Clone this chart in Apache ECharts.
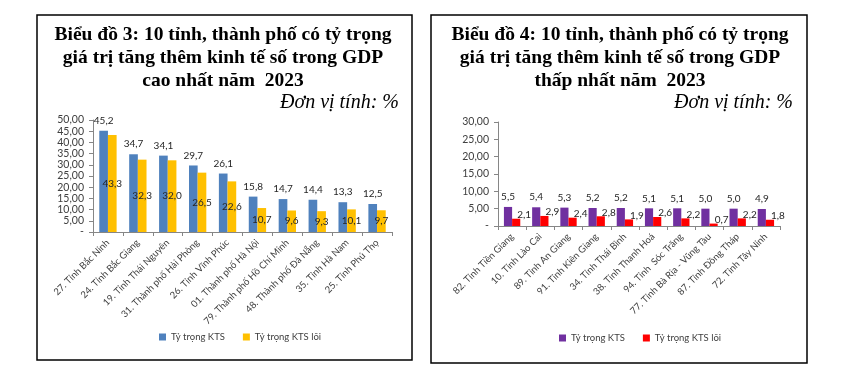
<!DOCTYPE html>
<html><head><meta charset="utf-8">
<script src="https://cdn.jsdelivr.net/npm/echarts@6/dist/echarts.min.js"></script>
<style>html,body{margin:0;padding:0;background:#fff}#c{width:842px;height:373px}</style>
</head><body><div id="c"></div><script>
const categoriesHigh = ['27. Tỉnh Bắc Ninh','24. Tỉnh Bắc Giang','19. Tỉnh Thái Nguyên','31. Thành phố Hải Phòng','26. Tỉnh Vĩnh Phúc','01. Thành phố Hà Nội','79. Thành phố Hồ Chí Minh','48. Thành phố Đà Nẵng','35. Tỉnh Hà Nam','25. Tỉnh Phú Thọ'];
const ktsHigh = [45.2,34.7,34.1,29.7,26.1,15.8,14.7,14.4,13.3,12.5];
const ktsCoreHigh = [43.3,32.3,32.0,26.5,22.6,10.7,9.6,9.3,10.1,9.7];
const categoriesLow = ['82. Tỉnh Tiền Giang','10. Tỉnh Lào Cai','89. Tỉnh An Giang','91. Tỉnh Kiên Giang','34. Tỉnh Thái Bình','38. Tỉnh Thanh Hoá','94. Tỉnh  Sóc Trăng','77. Tỉnh Bà Rịa - Vũng Tàu','87. Tỉnh Đồng Tháp','72. Tỉnh Tây Ninh'];
const ktsLow = [5.5,5.4,5.3,5.2,5.2,5.1,5.1,5.0,5.0,4.9];
const ktsCoreLow = [2.1,2.9,2.4,2.8,1.9,2.6,2.2,0.7,2.2,1.8];
const seriesNames = ['Tỷ trọng KTS','Tỷ trọng KTS lõi'];
const titleHigh = ['Biểu đồ 3: 10 tỉnh, thành phố có tỷ trọng','giá trị tăng thêm kinh tế số trong GDP','cao nhất năm  2023'];
const titleLow = ['Biểu đồ 4: 10 tỉnh, thành phố có tỷ trọng','giá trị tăng thêm kinh tế số trong GDP','thấp nhất năm  2023'];
const unitText = 'Đơn vị tính: %';

const FONT = 'Lato, "Liberation Sans", sans-serif';
const fmtVal = p => p.value.toFixed(1).replace('.', ',');
const fmtAxis = v => v === 0 ? '-' : v.toFixed(2).replace('.', ',');

function titleTexts(lines, cx, rx) {
  const ys = [35, 58, 81];
  const arr = lines.map((t, i) => ({
    type: 'text', x: cx, y: ys[i],
    style: { text: t, font: 'bold 19.5px "Liberation Serif", serif', fill: '#000', textAlign: 'center', textVerticalAlign: 'middle' }
  }));
  arr.push({ type: 'text', x: rx, y: 103,
    style: { text: unitText, font: 'italic 20px "Liberation Serif", serif', fill: '#000', textAlign: 'right', textVerticalAlign: 'middle' } });
  return arr;
}

function xAxis(idx, cats) {
  return {
    type: 'category', gridIndex: idx, data: cats,
    axisLine: { lineStyle: { color: '#868686', width: 1 } },
    axisTick: { show: true, length: 4, lineStyle: { color: '#868686' } },
    axisLabel: { rotate: 45, interval: 0, fontFamily: FONT, fontSize: 9.5, color: '#404040', margin: 9 }
  };
}
function yAxis(idx, max) {
  return {
    type: 'value', gridIndex: idx, min: 0, max: max, interval: 5,
    splitLine: { show: false },
    axisLine: { show: true, lineStyle: { color: '#868686', width: 1 } },
    axisTick: { show: true, length: 4, lineStyle: { color: '#868686' } },
    axisLabel: { formatter: fmtAxis, fontFamily: FONT, fontSize: 10.5, color: '#404040', margin: 9 }
  };
}
function bar(name, idx, data, color, label) {
  return {
    type: 'bar', name: name, xAxisIndex: idx, yAxisIndex: idx, data: data,
    barGap: '0%', barCategoryGap: '42%',
    itemStyle: { color: color },
    label: Object.assign({ show: true, formatter: fmtVal, fontFamily: FONT, fontSize: 10, color: '#262626' }, label)
  };
}

const chart = echarts.init(document.getElementById('c'), null, { renderer: 'canvas' });
chart.setOption({
  animation: false,
  backgroundColor: '#fff',
  grid: [
    { left: 93, top: 120, width: 299, height: 112 },
    { left: 498, top: 122, width: 282, height: 104 }
  ],
  xAxis: [xAxis(0, categoriesHigh), xAxis(1, categoriesLow)],
  yAxis: [yAxis(0, 50), yAxis(1, 30)],
  legend: [
    { left: 154, top: 327, itemWidth: 7, itemHeight: 7, itemGap: 18, icon: 'rect',
      data: [seriesNames[0] + '#1', seriesNames[1] + '#1'],
      formatter: n => n.replace(/#\d$/, ''),
      textStyle: { fontFamily: FONT, fontSize: 9.5, color: '#404040' } },
    { left: 554, top: 328, itemWidth: 7, itemHeight: 7, itemGap: 18, icon: 'rect',
      data: [seriesNames[0] + '#2', seriesNames[1] + '#2'],
      formatter: n => n.replace(/#\d$/, ''),
      textStyle: { fontFamily: FONT, fontSize: 9.5, color: '#404040' } }
  ],
  series: [
    bar(seriesNames[0] + '#1', 0, ktsHigh, '#4F81BD', { position: 'top' }),
    bar(seriesNames[1] + '#1', 0, ktsCoreHigh, '#FFC000', { position: 'inside' }),
    bar(seriesNames[0] + '#2', 1, ktsLow, '#7030A0', { position: 'top' }),
    bar(seriesNames[1] + '#2', 1, ktsCoreLow, '#FF0000', { position: 'top', offset: [8, 6] })
  ],
  graphic: [
    { type: 'rect', shape: { x: 37, y: 15, width: 375, height: 345 }, style: { fill: 'none', stroke: '#000', lineWidth: 1.5 } },
    { type: 'rect', shape: { x: 431, y: 15, width: 376, height: 348 }, style: { fill: 'none', stroke: '#000', lineWidth: 1.5 } }
  ].concat(titleTexts(titleHigh, 223, 399), titleTexts(titleLow, 620, 793))
});
</script></body></html>
